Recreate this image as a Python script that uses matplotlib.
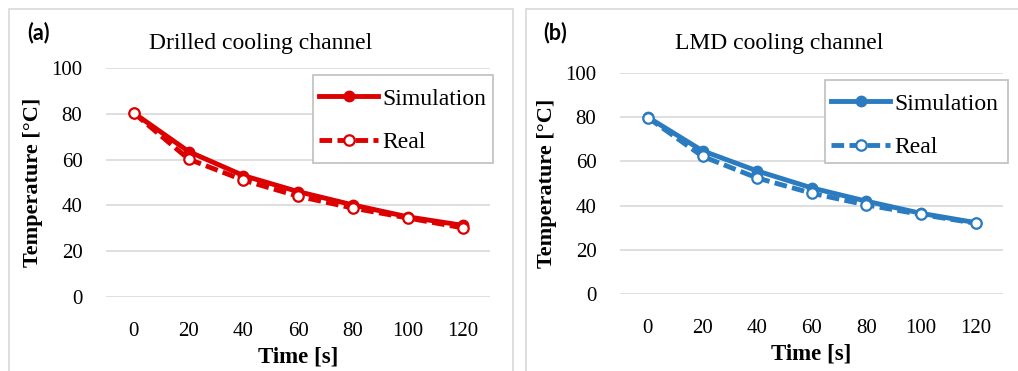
import matplotlib
matplotlib.use("Agg")
import matplotlib.pyplot as plt
from matplotlib.patches import Rectangle

time_s = [0, 20, 40, 60, 80, 100, 120]
drilled_sim = [80.3, 63.5, 53, 46, 40.2, 35, 31.3]
drilled_real = [80.3, 60.2, 51, 44, 38.8, 34.5, 30.2]
lmd_sim = [80, 64.8, 55.7, 48, 42, 36.5, 32.3]
lmd_real = [79.8, 62.3, 52.5, 45.6, 40.3, 36, 32]
yticks = [0, 20, 40, 60, 80, 100]

W, H = 1018, 371
serif = "Liberation Serif"

fig = plt.figure(figsize=(W / 100, H / 100), dpi=100)


def rect(x0, y0, x1, y1, color, filled=False):
    # rectangle in pixel coords (top-left origin), figure transform
    return Rectangle((x0 / W, 1 - y1 / H), (x1 - x0) / W, (y1 - y0) / H,
                     transform=fig.transFigure, fill=filled, facecolor="white",
                     edgecolor=color, linewidth=1.2, clip_on=False)


# panel frames
fig.add_artist(rect(9, 9, 513, 390, "#D9D9D9"))
fig.add_artist(rect(526, 9, 1030, 390, "#D9D9D9"))


def panel(area, sim, real, color, title, tag, tag_x, title_x, leg_box):
    l, r, t, b = area
    ax = fig.add_axes([l / W, 1 - b / H, (r - l) / W, (b - t) / H])
    ax.plot(time_s, sim, color=color, lw=3.5, marker="o", ms=7.5,
            mfc=color, mec=color, label="Simulation", clip_on=False, zorder=3)
    ax.plot(time_s, real, color=color, lw=3.5, ls=(0, (2.6, 1.1)), marker="o",
            ms=7.5, mfc="white", mec=color, mew=1.6, label="Real",
            clip_on=False, zorder=4)
    ax.set_xlim(-10.2, 130)
    ax.set_ylim(0, 100)
    ax.set_xticks(time_s)
    ax.set_yticks(yticks)
    ax.grid(axis="y", color="#D9D9D9", lw=1.2)
    ax.set_axisbelow(True)
    for s in ax.spines.values():
        s.set_visible(False)
    ax.tick_params(length=0, labelsize=15)
    ax.tick_params(axis="x", pad=18)
    ax.tick_params(axis="y", pad=17)
    for lab in ax.get_xticklabels() + ax.get_yticklabels():
        lab.set_fontfamily(serif)
    ax.set_xlabel("Time [s]", fontsize=16.5, fontweight="bold", family=serif,
                  labelpad=4)
    ax.set_ylabel("Temperature [°C]", fontsize=16, fontweight="bold",
                  family=serif, labelpad=6)
    fig.text(title_x / W, 1 - 44 / H, title, ha="center", va="center",
             fontsize=17, family=serif)
    fig.text(tag_x / W, 1 - 33 / H, tag, ha="left", va="center",
             fontsize=15.5, fontweight="bold", family="Lato")
    bx0, by0, bx1, by1 = leg_box
    frame = rect(bx0, by0, bx1, by1, "#BFBFBF", filled=True)
    frame.set_zorder(5)
    ax.add_patch(frame)
    leg = ax.legend(loc="upper left",
                    bbox_to_anchor=((bx0 + 6) / W, 1 - (by0 + 13) / H),
                    bbox_transform=fig.transFigure, borderaxespad=0,
                    prop={"family": serif, "size": 17}, handlelength=2.5,
                    handletextpad=0.17, labelspacing=0.95, borderpad=0,
                    frameon=False)
    leg.set_zorder(6)
    return ax


panel((106, 490, 68, 297), drilled_sim, drilled_real, "#DD0000",
      "Drilled cooling channel", "(a)", 27, 261, (313, 75, 493, 163))
panel((620, 1003, 73, 294), lmd_sim, lmd_real, "#2A7BC0",
      "LMD cooling channel", "(b)", 543, 779, (825, 80, 1008, 163))

fig.savefig("out.png", dpi=100)
